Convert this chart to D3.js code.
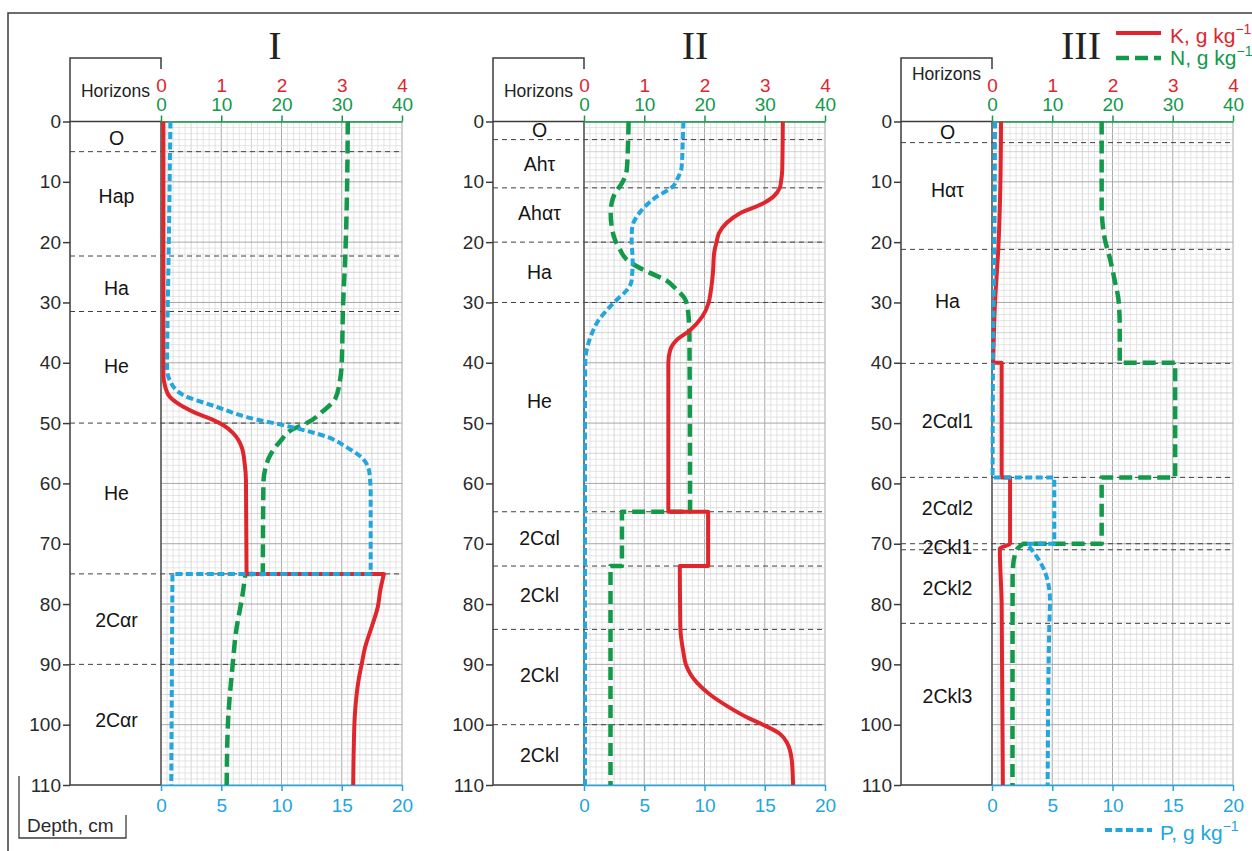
<!DOCTYPE html>
<html>
<head>
<meta charset="utf-8">
<script src="https://cdn.jsdelivr.net/npm/d3@7"></script>
<style>
  html, body { margin: 0; padding: 0; background: #fff; }
  svg { display: block; font-family: "Liberation Sans", Arial, sans-serif; }
</style>
</head>
<body>
<script>
// ---- tick labels ----
const depthTicks = [0, 10, 20, 30, 40, 50, 60, 70, 80, 90, 100, 110];
const kTicks = [0, 1, 2, 3, 4];
const nTicks = [0, 10, 20, 30, 40];
const pTicks = [0, 5, 10, 15, 20];
const panelTitles = ["I", "II", "III"];

// ---- soil horizons: names, lower boundaries (cm), label depth (cm) ----
const horizonsI = ["O", "Hap", "Ha", "He", "He", "2Cαr", "2Cαr"];
const boundsI = [5, 22.3, 31.5, 50, 75, 90];
const labelDepthI = [2.7, 12.4, 27.6, 40.6, 61.6, 82.6, 99.2];

const horizonsII = ["O", "Ahτ", "Ahατ", "Ha", "He", "2Cαl", "2Ckl", "2Ckl", "2Ckl"];
const boundsII = [3, 11, 20, 30, 64.7, 73.7, 84.2, 100];
const labelDepthII = [1.4, 7, 15.2, 24.9, 46.4, 69.1, 78.5, 91.7, 105];

const horizonsIII = ["O", "Hατ", "Ha", "2Cαl1", "2Cαl2", "2Ckl1", "2Ckl2", "2Ckl3"];
const boundsIII = [3.5, 21.2, 40.1, 59, 70, 71, 83.2];
const labelDepthIII = [1.8, 11.4, 29.8, 49.7, 64.1, 70.6, 77.4, 95.3];

// ---- profiles: [depth cm, value g/kg]; equal depths mark an abrupt step ----
const kI = [[0,0.04],[20,0.04],[42,0.04],[44,0.07],[45.7,0.15],[47.3,0.37],[48.4,0.59],[49.5,0.87],[50.3,1.03],[51.7,1.2],[54,1.34],[56.8,1.39],[59.5,1.41],[75,1.42],
            [75,3.7],[77.7,3.64],[80.4,3.6],[83.7,3.5],[87.1,3.39],[90,3.33],[92.6,3.28],[98,3.22],[103.6,3.2],[110,3.19]];
const nI = [[0,31],[10,30.9],[22,30.6],[31,30.2],[40,30.0],[43,29.7],[46,28.9],[48,26.9],[50,24.2],[51,21.9],[53,19.8],[56,17.8],[60,17.0],[75,16.9],
            [75,14.0],[78,13.6],[85,12.4],[90,11.9],[100,11.1],[110,10.9]];
const pI = [[0,0.78],[20,0.65],[35,0.53],[41,0.5],[43,0.75],[45.3,1.8],[47.3,4.6],[49,7.1],[50.6,10.7],[52.3,13.8],[54,15.4],[56,16.8],[58.3,17.3],[62,17.4],[75,17.4],
            [75,0.95],[110,0.85]];

const kII = [[0,3.3],[8,3.29],[10,3.27],[11,3.25],[12.5,3.14],[13.6,2.97],[15.2,2.59],[16.8,2.37],[18.5,2.24],[20,2.2],[21.8,2.16],[25.1,2.14],[28.4,2.1],[30,2.07],[32.4,1.96],[34.6,1.76],[36.2,1.54],[37.9,1.43],[40,1.4],[64.7,1.4],
             [64.7,2.06],[73.7,2.06],
             [73.7,1.59],[84,1.6],[88,1.65],[90,1.69],[93,1.87],[95,2.09],[97,2.39],[99,2.75],[100,2.97],[101.5,3.25],[103,3.37],[106,3.45],[110,3.47]];
const nII = [[0,7.4],[4,7.3],[8,7.1],[10.3,6.25],[11.9,5.15],[13.5,4.6],[15.2,4.43],[17.4,4.6],[19.6,5.15],[21.3,6.0],[22.9,7.1],[24,8.75],[25.1,10.95],[26.2,13.4],[27.9,15.4],[29.5,16.8],[31.7,17.3],[35.5,17.5],[64.7,17.6],
             [64.7,6.3],[73.7,6.3],
             [73.7,4.4],[110,4.4]];
const pII = [[0,8.25],[3,8.2],[7.6,8.1],[9.3,7.8],[10.9,7.3],[12.5,6.0],[14.1,5.06],[15.8,4.37],[17.5,4.0],[19.7,3.95],[23,4.04],[26.4,3.95],[28,3.54],[29.6,2.7],[31.3,1.88],[33,1.19],[35.2,0.64],[37.4,0.28],[39.6,0.11],[50,0.08],[110,0.08]];

const kIII = [[0,0.15],[10,0.14],[21,0.105],[30,0.05],[40,0.02],
              [40,0.16],[59,0.16],
              [59,0.3],[70,0.3],[70.8,0.13],[80,0.16],[110,0.18]];
const nIII = [[0,18.2],[14,18.2],[19.6,18.75],[22.4,19.5],[26.5,20.4],[29.6,21.0],[34,21.2],[40,21.2],
              [40,30.4],[59,30.4],
              [59,18.2],[70,18.2],
              [70,5.2],[71,4.1],[73.7,3.5],[76,3.42],[110,3.4]];
const pIII = [[0,0.25],[20,0.2],[40,0.08],[59,0.05],
              [59,5.17],[70,5.17],
              [70,2.9],[71,3.3],[73.8,4.2],[76.6,4.67],[79.4,4.81],[84,4.75],[110,4.62]];

// ---- styling ----
const RED = "#e0262d", GREEN = "#12994a", BLUE = "#22a6dd", DARK = "#3c3c3c";
const styleK = { color: RED, width: 4, dash: null };
const styleN = { color: GREEN, width: 4.5, dash: "13,6" };
const styleP = { color: BLUE, width: 4, dash: "7,3.5" };

const panels = [
  { title: panelTitles[0], titleX: 275, box: 70, x0: 161, horizonsY: 96.5, names: horizonsI, bounds: boundsI, labels: labelDepthI, K: kI, N: nI, P: pI },
  { title: panelTitles[1], titleX: 695, box: 493, x0: 584, horizonsY: 96.5, names: horizonsII, bounds: boundsII, labels: labelDepthII, K: kII, N: nII, P: pII },
  { title: panelTitles[2], titleX: 1081, box: 901, x0: 992, horizonsY: 80, names: horizonsIII, bounds: boundsIII, labels: labelDepthIII, K: kIII, N: nIII, P: pIII }
];
const W = 241, boxTop = 58;
const intFmt = d3.format("d");

const svg = d3.select("body").append("svg").attr("width", 1252).attr("height", 851);

// outer frame (top and left edges)
svg.append("path").attr("d", "M8,851V13H1252").attr("fill", "none").attr("stroke", DARK).attr("stroke-width", 1.5);

const y = d3.scaleLinear().domain([0, 110]).range([121.5, 785]);

// split a profile at steps, smooth each run, join the runs with straight segments
function profilePath(points, xs) {
  const runs = [];
  let cur = [points[0]];
  for (let i = 1; i < points.length; i++) {
    if (points[i][0] === points[i - 1][0]) { runs.push(cur); cur = [points[i]]; }
    else cur.push(points[i]);
  }
  runs.push(cur);
  const line = d3.line().x(d => xs(d[1])).y(d => y(d[0])).curve(d3.curveMonotoneY);
  return runs.map((r, i) => { const s = line(r); return i ? "L" + s.slice(1) : s; }).join("");
}

panels.forEach(p => {
  const g = svg.append("g");
  const xK = d3.scaleLinear().domain([0, 4]).range([p.x0, p.x0 + W]);
  const xN = d3.scaleLinear().domain([0, 40]).range([p.x0, p.x0 + W]);
  const xP = d3.scaleLinear().domain([0, 20]).range([p.x0, p.x0 + W]);

  // graph-paper grid
  const grid = g.append("g");
  d3.range(0, 41).forEach(v => {
    const major = v % 10 === 0, mid = v % 5 === 0;
    grid.append("line").attr("x1", xN(v)).attr("x2", xN(v)).attr("y1", y(0)).attr("y2", y(110))
      .attr("stroke", major ? "#a8a8a8" : mid ? "#c3c3c3" : "#dadada").attr("stroke-width", major ? 1 : 0.7);
  });
  d3.range(0, 111).forEach(v => {
    const major = v % 10 === 0, mid = v % 5 === 0;
    grid.append("line").attr("x1", p.x0).attr("x2", p.x0 + W).attr("y1", y(v)).attr("y2", y(v))
      .attr("stroke", major ? "#a8a8a8" : mid ? "#c3c3c3" : "#dadada").attr("stroke-width", major ? 1 : 0.7);
  });

  // horizon boundaries
  p.bounds.forEach(b => {
    g.append("line").attr("x1", p.box).attr("x2", p.x0 + W).attr("y1", y(b)).attr("y2", y(b))
      .attr("stroke", "#404040").attr("stroke-width", 1).attr("stroke-dasharray", "5,4");
  });

  // horizon names
  p.names.forEach((name, i) => {
    g.append("text").attr("x", (p.box + p.x0) / 2 + 1).attr("y", y(p.labels[i])).attr("dy", "0.36em")
      .attr("text-anchor", "middle").attr("font-size", 19.5).attr("fill", "#151515").text(name);
  });

  // horizons column frame
  g.append("path").attr("d", `M${p.box},${y(110)}V${boxTop}H${p.x0}V${boxTop + 11}`)
    .attr("fill", "none").attr("stroke", DARK).attr("stroke-width", 1.5);
  g.append("line").attr("x1", p.box).attr("x2", p.x0).attr("y1", y(0)).attr("y2", y(0)).attr("stroke", DARK).attr("stroke-width", 1.5);
  g.append("line").attr("x1", p.box).attr("x2", p.x0).attr("y1", y(110)).attr("y2", y(110)).attr("stroke", DARK).attr("stroke-width", 1.5);
  g.append("line").attr("x1", p.x0).attr("x2", p.x0).attr("y1", y(0)).attr("y2", y(110)).attr("stroke", "#555").attr("stroke-width", 1.5);
  g.append("text").attr("x", (p.box + p.x0) / 2).attr("y", p.horizonsY).attr("text-anchor", "middle")
    .attr("font-size", 17.5).attr("fill", "#222").text("Horizons");

  // depth axis
  const ax = g.append("g").attr("transform", `translate(${p.box},0)`)
    .call(d3.axisLeft(y).tickValues(depthTicks).tickFormat(intFmt).tickSize(7).tickPadding(2));
  ax.select(".domain").remove();
  ax.selectAll("line").attr("stroke", DARK).attr("stroke-width", 1.5);
  ax.selectAll("text").attr("font-size", 19).attr("font-family", null).attr("fill", "#2a2a2a");

  // N axis (top)
  const an = g.append("g").attr("transform", `translate(0,${y(0)})`)
    .call(d3.axisTop(xN).tickValues(nTicks).tickFormat(intFmt).tickSize(6).tickPadding(4.5).tickSizeOuter(0));
  an.select(".domain").attr("stroke", GREEN).attr("stroke-width", 1.5);
  an.selectAll("line").attr("stroke", GREEN).attr("stroke-width", 1.5);
  an.selectAll("text").attr("font-size", 19).attr("font-family", null).attr("fill", GREEN);

  // K axis (top, labels only)
  const ak = g.append("g").attr("transform", `translate(0,${y(0)})`)
    .call(d3.axisTop(xK).tickValues(kTicks).tickFormat(intFmt).tickSize(0).tickPadding(30));
  ak.select(".domain").remove();
  ak.selectAll("text").attr("font-size", 19).attr("font-family", null).attr("fill", RED);

  // P axis (bottom)
  const ap = g.append("g").attr("transform", `translate(0,${y(110)})`)
    .call(d3.axisBottom(xP).tickValues(pTicks).tickFormat(intFmt).tickSize(6).tickPadding(7.5).tickSizeOuter(0));
  ap.select(".domain").attr("stroke", BLUE).attr("stroke-width", 1.5);
  ap.selectAll("line").attr("stroke", BLUE).attr("stroke-width", 1.5);
  ap.selectAll("text").attr("font-size", 19).attr("font-family", null).attr("fill", BLUE);

  // profiles
  [[p.N, xN, styleN], [p.K, xK, styleK], [p.P, xP, styleP]].forEach(([data, xs, st]) => {
    g.append("path").attr("d", profilePath(data, xs)).attr("fill", "none")
      .attr("stroke", st.color).attr("stroke-width", st.width)
      .attr("stroke-dasharray", st.dash).attr("stroke-linejoin", "round");
  });

  // panel title
  svg.append("text").attr("x", p.titleX).attr("y", 59).attr("text-anchor", "middle")
    .attr("font-family", "'Liberation Serif', 'Times New Roman', serif").attr("font-size", 40)
    .attr("fill", "#222").text(p.title);
});

// legend
function legendItem(x1, x2, ly, st, tx, ty, label) {
  svg.append("line").attr("x1", x1).attr("x2", x2).attr("y1", ly).attr("y2", ly)
    .attr("stroke", st.color).attr("stroke-width", st.width).attr("stroke-dasharray", st.dash);
  const t = svg.append("text").attr("x", tx).attr("y", ty).attr("font-size", 21).attr("fill", st.color);
  t.append("tspan").text(label + ", g kg");
  t.append("tspan").attr("dy", -9).attr("font-size", 14).text("−1");
}
legendItem(1116, 1161, 33, styleK, 1170, 43, "K");
legendItem(1116, 1161, 58, styleN, 1170, 65, "N");
legendItem(1105, 1152, 830, styleP, 1160, 840, "P");

// depth caption
svg.append("path").attr("d", "M19,776V838H126V815").attr("fill", "none").attr("stroke", DARK).attr("stroke-width", 1.3);
svg.append("text").attr("x", 27).attr("y", 832).attr("font-size", 19).attr("fill", "#2a2a2a").text("Depth, cm");
</script>
</body>
</html>
